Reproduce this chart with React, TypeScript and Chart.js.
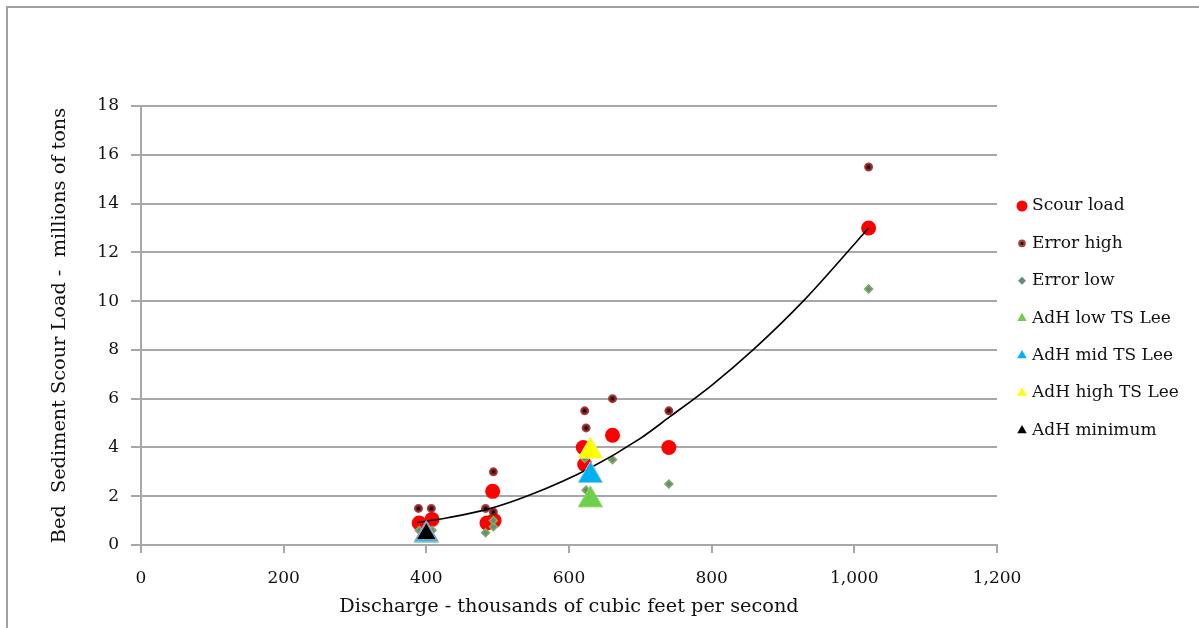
import React, { useEffect, useRef } from "react";
import { Chart, registerables } from "chart.js";

Chart.register(...registerables);

// ---- data ----
const scourX = [390, 408, 485, 495, 493, 620, 622, 661, 740, 1020];
const scourY = [0.9, 1.05, 0.9, 1.0, 2.2, 4.0, 3.3, 4.5, 4.0, 13.0];

const errHighX = [389, 407, 483, 494, 494, 622, 624, 661, 740, 1020];
const errHighY = [1.5, 1.5, 1.5, 1.35, 3.0, 5.5, 4.8, 6.0, 5.5, 15.5];

const errLowX = [390, 408, 483, 494, 494, 622, 624, 661, 740, 1020];
const errLowY = [0.6, 0.6, 0.5, 0.75, 1.0, 3.55, 2.25, 3.5, 2.5, 10.5];

const adhLowX = [630, 400];
const adhLowY = [1.85, 0.4];
const adhMidX = [630, 400];
const adhMidY = [2.85, 0.42];
const adhHighX = [630];
const adhHighY = [3.85];
const adhMinX = [400];
const adhMinY = [0.46];

// trend line
const trendX = [387, 430, 484, 545, 629, 699, 741, 800, 858, 930, 1020];
const trendY = [0.92, 1.12, 1.45, 2.05, 3.15, 4.35, 5.25, 6.55, 8.0, 10.05, 13.0];

const xTicksMin = 0;
const xTicksMax = 1200;
const xStep = 200;
const yTicksMin = 0;
const yTicksMax = 18;
const yStep = 2;

const legendLabels = [
  "Scour load",
  "Error high",
  "Error low",
  "AdH low TS Lee",
  "AdH mid TS Lee",
  "AdH high TS Lee",
  "AdH minimum",
];

const FONT = "'DejaVu Serif', serif";
const TEXT = "#111111";
const GRID = "#a8a8a8";

const zip = (xs: number[], ys: number[]) => xs.map((x, i) => ({ x, y: ys[i] }));

const frameAndLegend = {
  id: "frameAndLegend",
  beforeDraw(chart: any) {
    const ctx = chart.ctx;
    ctx.save();
    ctx.fillStyle = "#ffffff";
    ctx.fillRect(0, 0, chart.width, chart.height);
    ctx.fillStyle = "#a0a0a0";
    ctx.fillRect(6, 6, chart.width, 2);
    ctx.fillRect(6, 6, 2, chart.height);
    ctx.restore();
  },
  afterDraw(chart: any) {
    const ctx = chart.ctx;
    const mx = 1022;
    const tx = 1032;
    const y0 = 206;
    const dy = 37.4;
    ctx.save();
    ctx.font = `17px ${FONT}`;
    ctx.textBaseline = "middle";
    ctx.textAlign = "left";
    legendLabels.forEach((label, i) => {
      const y = y0 + i * dy;
      const ds = chart.data.datasets[i];
      ctx.save();
      ctx.fillStyle = ds.backgroundColor;
      ctx.strokeStyle = ds.borderColor;
      ctx.lineWidth = 1;
      ctx.beginPath();
      if (i === 0) {
        ctx.arc(mx, y, 5.5, 0, Math.PI * 2);
        ctx.fill();
      } else if (i === 1) {
        ctx.fillStyle = "rgba(150,30,30,0.85)";
        ctx.arc(mx, y, 3.8, 0, Math.PI * 2);
        ctx.fill();
        ctx.beginPath();
        ctx.fillStyle = "#000";
        ctx.arc(mx, y, 1.4, 0, Math.PI * 2);
        ctx.fill();
      } else if (i === 2) {
        const r = 4;
        ctx.moveTo(mx, y - r);
        ctx.lineTo(mx + r, y);
        ctx.lineTo(mx, y + r);
        ctx.lineTo(mx - r, y);
        ctx.closePath();
        ctx.fill();
      } else {
        const r = 5.5;
        ctx.moveTo(mx, y - r);
        ctx.lineTo(mx + r * 0.866, y + r / 2);
        ctx.lineTo(mx - r * 0.866, y + r / 2);
        ctx.closePath();
        ctx.fill();
      }
      ctx.restore();
      ctx.fillStyle = TEXT;
      ctx.fillText(label, tx, y);
    });
    ctx.restore();
  },
};

export default function App() {
  const ref = useRef<HTMLCanvasElement | null>(null);

  useEffect(() => {
    if (!ref.current) return;
    const chart = new Chart(ref.current, {
      type: "scatter",
      data: {
        datasets: [
          {
            label: legendLabels[0],
            data: zip(scourX, scourY),
            backgroundColor: "#ff0000",
            borderColor: "#ff0000",
            pointRadius: 7.5,
            pointBorderWidth: 0,
            order: 8,
          },
          {
            label: legendLabels[1],
            data: zip(errHighX, errHighY),
            backgroundColor: "#000000",
            borderColor: "rgba(150,30,30,0.85)",
            pointRadius: 3,
            pointBorderWidth: 3,
            order: 7,
          },
          {
            label: legendLabels[2],
            data: zip(errLowX, errLowY),
            backgroundColor: "#5f8f7f",
            borderColor: "#86aa5a",
            pointStyle: "rectRot",
            pointRadius: 4,
            pointBorderWidth: 1.5,
            order: 6,
          },
          {
            label: legendLabels[3],
            data: zip(adhLowX, adhLowY),
            backgroundColor: "#6fcf4a",
            borderColor: "#8fd870",
            pointStyle: "triangle",
            pointRadius: 14,
            pointBorderWidth: 1,
            order: 4,
          },
          {
            label: legendLabels[4],
            data: zip(adhMidX, adhMidY),
            backgroundColor: "#00b0f0",
            borderColor: "#7fcff0",
            pointStyle: "triangle",
            pointRadius: 14,
            pointBorderWidth: 1,
            order: 3,
          },
          {
            label: legendLabels[5],
            data: zip(adhHighX, adhHighY),
            backgroundColor: "#ffff00",
            borderColor: "#f5f070",
            pointStyle: "triangle",
            pointRadius: 14,
            pointBorderWidth: 1,
            order: 2,
          },
          {
            label: legendLabels[6],
            data: zip(adhMinX, adhMinY),
            backgroundColor: "#000000",
            borderColor: "#8aa0c0",
            pointStyle: "triangle",
            pointRadius: 12,
            pointBorderWidth: 1.5,
            order: 1,
          },
          {
            type: "line",
            label: "trend",
            data: zip(trendX, trendY),
            borderColor: "#000000",
            borderWidth: 1.6,
            pointRadius: 0,
            showLine: true,
            fill: false,
            cubicInterpolationMode: "monotone",
            order: 5,
          } as any,
        ],
      },
      options: {
        animation: false,
        responsive: false,
        maintainAspectRatio: false,
        layout: { padding: { left: 0, right: 202, top: 106, bottom: 0 } },
        plugins: {
          legend: { display: false },
          tooltip: { enabled: false },
        },
        scales: {
          x: {
            type: "linear",
            min: xTicksMin,
            max: xTicksMax,
            afterFit: (s: any) => {
              s.height = 83;
            },
            ticks: {
              stepSize: xStep,
              color: TEXT,
              font: { family: FONT, size: 17 },
              padding: 15,
              maxRotation: 0,
            },
            grid: {
              drawOnChartArea: false,
              drawTicks: true,
              tickLength: 8,
              color: GRID,
              lineWidth: 2,
            },
            border: { color: GRID, width: 2 },
            title: {
              display: true,
              text: "Discharge - thousands of cubic feet per second",
              color: TEXT,
              font: { family: FONT, size: 19.3 },
              padding: { top: 0, bottom: 9 },
            },
          },
          y: {
            type: "linear",
            min: yTicksMin,
            max: yTicksMax,
            afterFit: (s: any) => {
              s.width = 141;
            },
            ticks: {
              stepSize: yStep,
              color: TEXT,
              font: { family: FONT, size: 17 },
              padding: 12,
            },
            grid: {
              drawTicks: true,
              tickLength: 10,
              color: GRID,
              lineWidth: 2,
            },
            border: { color: GRID, width: 2 },
            title: {
              display: true,
              text: "Bed  Sediment Scour Load -  millions of tons",
              color: TEXT,
              font: { family: FONT, size: 19.3 },
              padding: { top: 48, bottom: 0 },
            },
          },
        },
      },
      plugins: [frameAndLegend],
    });
    return () => chart.destroy();
  }, []);

  return (
    <div
      style={{
        position: "absolute",
        left: 0,
        top: 0,
        width: 1199,
        height: 628,
        overflow: "hidden",
        background: "#fff",
      }}
    >
      <canvas ref={ref} width={1199} height={628} style={{ display: "block" }} />
    </div>
  );
}
